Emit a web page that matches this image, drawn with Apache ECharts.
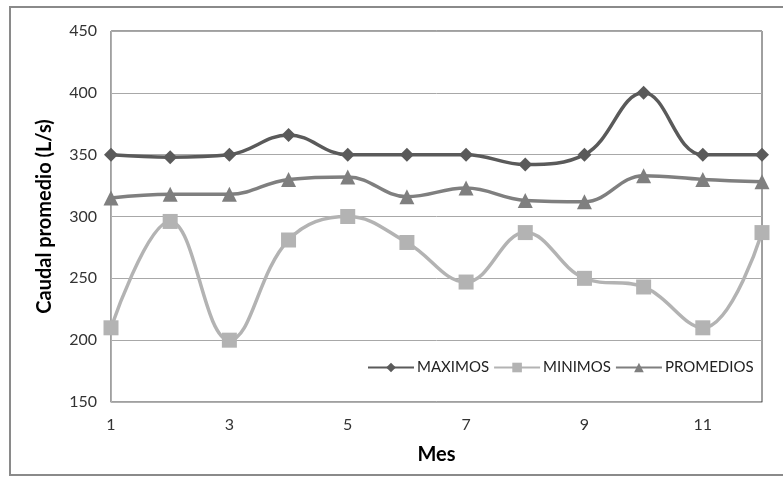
<!DOCTYPE html>
<html>
<head>
<meta charset="utf-8">
<script src="https://cdn.jsdelivr.net/npm/echarts@6/dist/echarts.min.js"></script>
<style>html,body{margin:0;padding:0;background:#fff}#c{width:783px;height:477px}</style>
</head>
<body>
<div id="c"></div>
<script>
var months = ['1','2','3','4','5','6','7','8','9','10','11','12'];
var maximos = [350, 348, 350, 366, 350, 350, 350, 342, 350, 400, 350, 350];
var minimos = [210, 296, 200, 281, 300, 279, 247, 287, 250, 243, 210, 287];
var promedios = [315, 318, 318, 330, 332, 316, 323, 313, 312, 333, 330, 328];
var yTicks = [150, 200, 250, 300, 350, 400, 450];

var font = 'Lato';
var chart = echarts.init(document.getElementById('c'), null, {renderer: 'canvas'});
chart.setOption({
  animation: false,
  backgroundColor: '#fff',
  graphic: [{
    type: 'rect', silent: true, z: -10,
    shape: {x: 10, y: 7, width: 780, height: 468},
    style: {fill: 'none', stroke: '#8a8a8a', lineWidth: 2}
  }],
  grid: {left: 111, right: 21, top: 31, bottom: 75, show: true, borderColor: '#404040', borderWidth: 1, backgroundColor: 'transparent'},
  legend: {
    left: 362, top: 355,
    itemWidth: 46, itemHeight: 12, itemGap: 4,
    textStyle: {fontFamily: font, fontSize: 15, color: '#222', padding: [0, 0, 0, -2]},
    data: ['MAXIMOS', 'MINIMOS', 'PROMEDIOS']
  },
  xAxis: {
    type: 'category', data: months, boundaryGap: false,
    name: 'Mes', nameLocation: 'middle', nameGap: 43,
    nameTextStyle: {fontFamily: font, fontSize: 20, fontWeight: 'bold', color: '#000'},
    axisLine: {lineStyle: {color: '#b0b0b0', width: 1}},
    axisTick: {show: false},
    axisLabel: {interval: 1, margin: 15, fontFamily: font, fontSize: 16, color: '#333'},
    splitLine: {show: false}
  },
  yAxis: {
    type: 'value', min: yTicks[0], max: yTicks[yTicks.length - 1], interval: 50,
    name: 'Caudal promedio (L/s)', nameLocation: 'middle', nameGap: 56, nameRotate: 90,
    nameTextStyle: {fontFamily: font, fontSize: 20, fontWeight: 'bold', color: '#000'},
    axisLine: {show: true, lineStyle: {color: '#b0b0b0', width: 1}},
    axisTick: {show: false},
    axisLabel: {margin: 14, fontFamily: font, fontSize: 16, color: '#333'},
    splitLine: {lineStyle: {color: '#a8a8a8', width: 1}}
  },
  series: [
    {name: 'MAXIMOS', type: 'line', data: maximos, smooth: 0.4,
     symbol: 'diamond', symbolSize: 14,
     lineStyle: {color: '#5a5a5a', width: 3.5}, itemStyle: {color: '#5a5a5a'}, z: 3},
    {name: 'MINIMOS', type: 'line', data: minimos, smooth: 0.4,
     symbol: 'rect', symbolSize: 15,
     lineStyle: {color: '#b3b3b3', width: 3.5}, itemStyle: {color: '#b3b3b3'}, z: 2},
    {name: 'PROMEDIOS', type: 'line', data: promedios, smooth: 0.4,
     symbol: 'triangle', symbolSize: 15,
     lineStyle: {color: '#7f7f7f', width: 3.5}, itemStyle: {color: '#7f7f7f'}, z: 4}
  ]
});
</script>
</body>
</html>
